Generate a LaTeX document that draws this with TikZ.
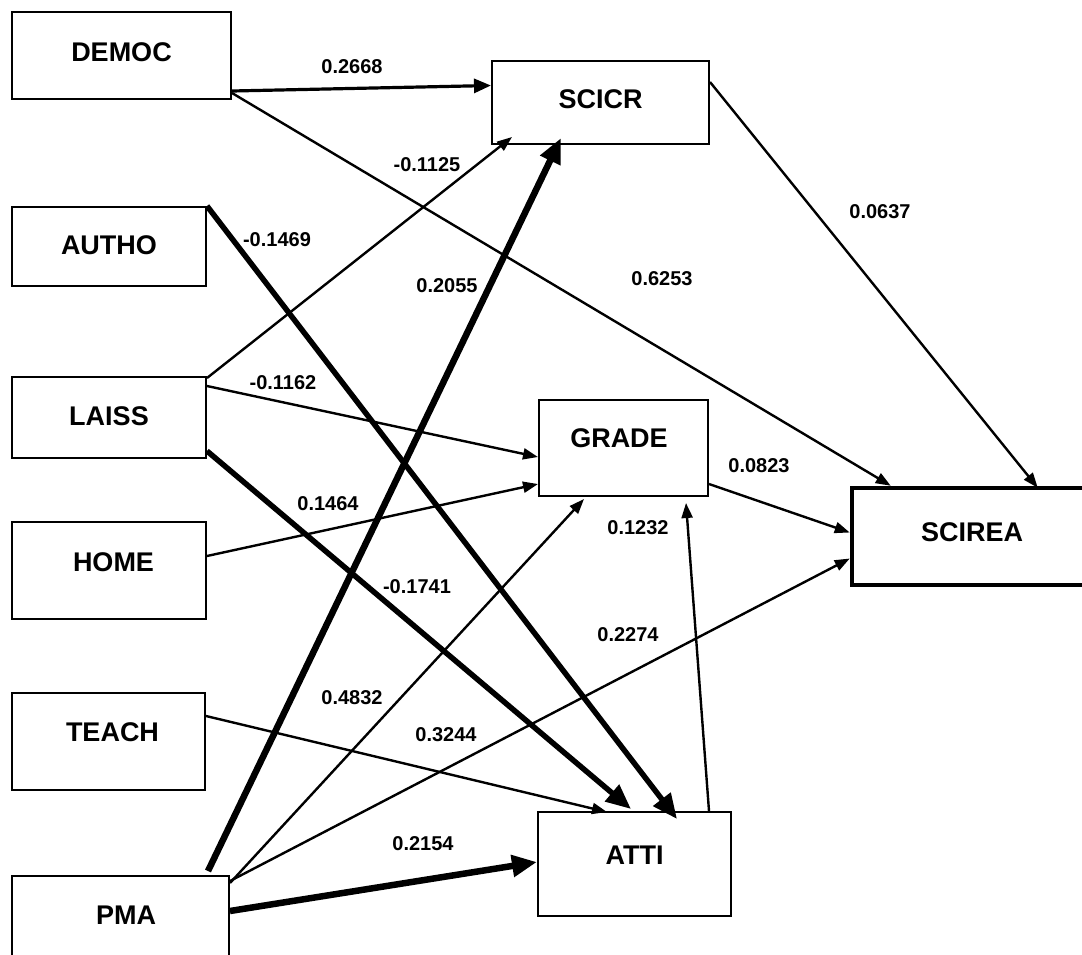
\documentclass[tikz,border=0pt]{standalone}
\usepackage{fontspec}
\setmainfont{Liberation Sans}
\usetikzlibrary{arrows.meta,calc}
\newcommand{\bt}[3]{\raisebox{#2}[0.716em][0pt]{\hspace*{#1}#3}}
\tikzset{
  box/.style={draw, line width=2pt, rectangle, inner sep=0pt,
    font=\fontsize{27}{31}\selectfont\bfseries},
  lab/.style={inner sep=0pt, font=\fontsize{20}{24}\selectfont\bfseries},
  thinarrow/.style={line width=2.4pt, -{Triangle[length=15pt,width=11pt]}},
  midarrow/.style={line width=3.2pt, -{Triangle[length=17pt,width=14pt]}},
  thickarrow/.style={line width=6pt, -{Triangle[length=25pt,width=21pt]}}
}
\begin{document}
\begin{tikzpicture}[x=1pt,y=-1pt]
\useasboundingbox (0,0) rectangle (1082,954);
\clip (0,0) rectangle (1082,954);
% boxes
\node[box, minimum width=219pt, minimum height=87pt] (democ) at (121.5,55.5) {\bt{0pt}{3.5pt}{DEMOC}};
\node[box, minimum width=194pt, minimum height=79pt] (autho) at (109,246.5) {\bt{0pt}{1.5pt}{AUTHO}};
\node[box, minimum width=194pt, minimum height=81pt] (laiss) at (109,417.5) {\bt{0pt}{1.5pt}{LAISS}};
\node[box, minimum width=194pt, minimum height=97pt] (home) at (109,570.5) {\bt{9pt}{8.5pt}{HOME}};
\node[box, minimum width=193pt, minimum height=97pt] (teach) at (108.5,741.5) {\bt{8pt}{9.5pt}{TEACH}};
\node[box, minimum width=217pt, minimum height=97pt] (pma) at (120.5,924.5) {\bt{11pt}{9.5pt}{PMA}};
\node[box, minimum width=217pt, minimum height=83pt] (scicr) at (600.5,102.5) {\bt{0pt}{3.5pt}{SCICR}};
\node[box, minimum width=169pt, minimum height=96pt] (grade) at (623.5,448) {\bt{-9pt}{10pt}{GRADE}};
\node[box, line width=4.5pt, minimum width=240pt, minimum height=97pt] (scirea) at (972,536.5) {\bt{0pt}{4.5pt}{SCIREA}};
\node[box, minimum width=193pt, minimum height=104pt] (atti) at (634.5,864) {\bt{0pt}{9pt}{ATTI}};
% connectors
\draw[midarrow] ([yshift=9pt]democ.south east) -- ([yshift=17pt]scicr.west);
\draw[thinarrow] ([yshift=7pt]democ.south east) -- ([xshift=41pt]scirea.north west);
\draw[thinarrow] ([yshift=-22pt]scicr.north east) -- ([xshift=188pt,yshift=-2pt]scirea.north west);
\draw[thickarrow, line width=5.5pt] (autho.north east) -- ([xshift=140pt,yshift=-8pt]atti.north west);
\draw[thinarrow] ([yshift=-2pt]laiss.north east) -- ([xshift=21pt,yshift=8pt]scicr.south west);
\draw[thinarrow] ([yshift=-10pt]laiss.north east) -- ([yshift=-9pt]grade.west);
\draw[thickarrow, line width=5.5pt] ([yshift=8pt]laiss.south east) -- ([xshift=94pt,yshift=2pt]atti.north west);
\draw[thinarrow] ([yshift=-35pt]home.north east) -- ([yshift=13pt]grade.south west);
\draw[thinarrow] ([yshift=-24pt]teach.north east) -- ([xshift=70pt,yshift=-1pt]atti.north west);
\draw[thickarrow, line width=6.5pt] ([xshift=-22pt,yshift=4pt]pma.north east) -- ([xshift=70pt,yshift=7pt]scicr.south west);
\draw[thinarrow] ([yshift=-8pt]pma.north east) -- ([xshift=46pt,yshift=-2pt]grade.south west);
\draw[thinarrow] ([yshift=-6pt]pma.north east) -- ([yshift=-22pt]scirea.west);
\draw[thickarrow, line width=6.5pt] ([yshift=-36pt]pma.north east) -- ([yshift=2pt]atti.west);
\draw[thinarrow] ([xshift=-23pt]atti.north east) -- ([xshift=-23pt,yshift=-6pt]grade.south east);
\draw[thinarrow] ([yshift=13pt]grade.south east) -- ([yshift=4pt]scirea.west);
% labels
\node[lab] (l1) at (352,67) {0.2668};
\node[lab] (l2) at (662,279) {0.6253};
\node[lab] (l3) at (880,212) {0.0637};
\node[lab] (l4) at (277,240) {-0.1469};
\node[lab] (l5) at (427,165) {-0.1125};
\node[lab] (l6) at (283,383) {-0.1162};
\node[lab] (l7) at (417,587) {-0.1741};
\node[lab] (l8) at (328,504) {0.1464};
\node[lab] (l9) at (446,735) {0.3244};
\node[lab] (l10) at (447,286) {0.2055};
\node[lab] (l11) at (352,698) {0.4832};
\node[lab] (l12) at (628,635) {0.2274};
\node[lab] (l13) at (423,844) {0.2154};
\node[lab] (l14) at (638,528) {0.1232};
\node[lab] (l15) at (759,466) {0.0823};
\end{tikzpicture}
\end{document}
